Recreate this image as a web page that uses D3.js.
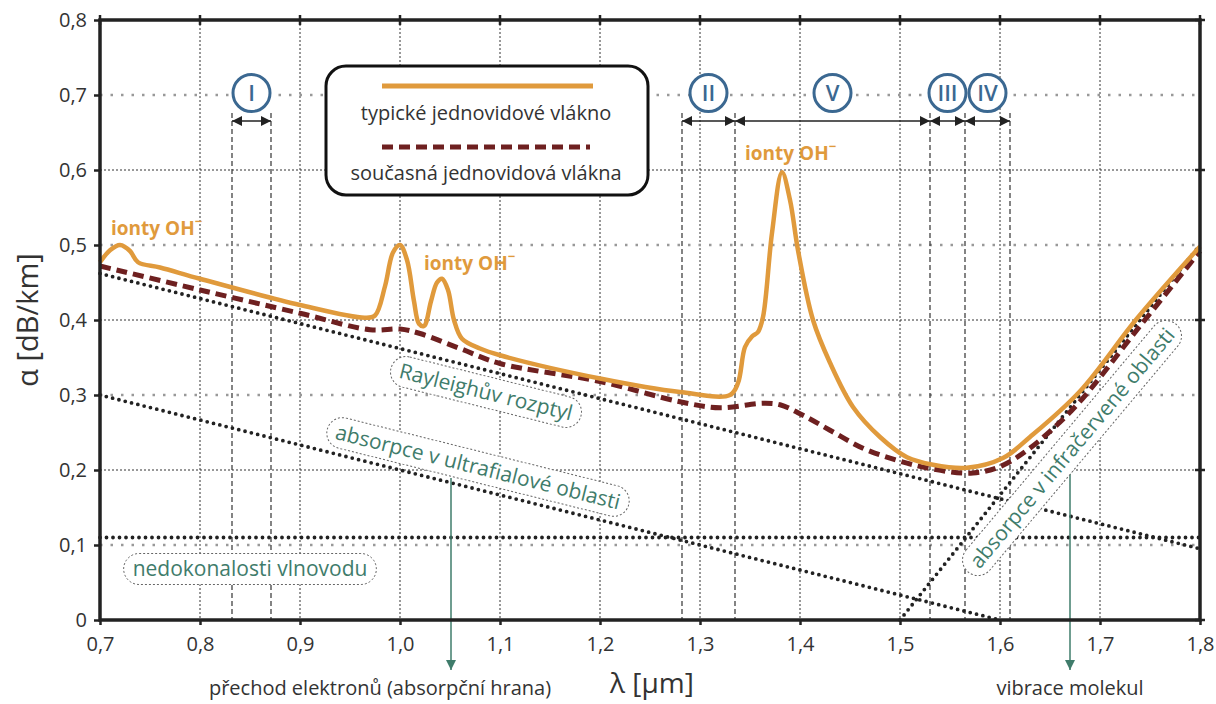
<!DOCTYPE html>
<html>
<head>
<meta charset="utf-8">
<title></title>
<style>
  body { margin: 0; background: #fff; }
  text { font-family: "Open Sans", sans-serif; }
</style>
</head>
<body>
<div id="chart"></div>
<script src="https://cdn.jsdelivr.net/npm/d3@7"></script>
<script>
// wavelength [um] and attenuation [dB/km]
var typLambda = [0.70, 0.71, 0.72, 0.73, 0.738, 0.76, 0.80, 0.90, 0.965, 0.975, 0.985, 0.993, 1.000, 1.007, 1.014, 1.019, 1.024, 1.031, 1.037, 1.042, 1.048, 1.054, 1.062, 1.08, 1.10, 1.20, 1.28, 1.33, 1.338, 1.345, 1.352, 1.358, 1.363, 1.372, 1.382, 1.39, 1.398, 1.413, 1.43, 1.453, 1.48, 1.507, 1.533, 1.567, 1.603, 1.63, 1.68, 1.737, 1.80];
var typAlpha  = [0.477, 0.493, 0.500, 0.492, 0.477, 0.470, 0.455, 0.420, 0.403, 0.406, 0.445, 0.490, 0.500, 0.480, 0.425, 0.395, 0.392, 0.425, 0.450, 0.455, 0.440, 0.400, 0.375, 0.362, 0.353, 0.322, 0.304, 0.300, 0.316, 0.364, 0.378, 0.384, 0.404, 0.516, 0.597, 0.560, 0.493, 0.400, 0.343, 0.284, 0.244, 0.217, 0.207, 0.203, 0.216, 0.244, 0.305, 0.402, 0.498];

var curLambda = [0.70, 0.80, 0.90, 0.97, 1.00, 1.02, 1.06, 1.10, 1.20, 1.28, 1.32, 1.363, 1.38, 1.403, 1.43, 1.463, 1.497, 1.53, 1.573, 1.607, 1.667, 1.74, 1.80];
var curAlpha  = [0.472, 0.440, 0.409, 0.387, 0.388, 0.382, 0.362, 0.342, 0.318, 0.291, 0.283, 0.289, 0.287, 0.273, 0.253, 0.229, 0.213, 0.202, 0.196, 0.209, 0.273, 0.392, 0.492];

// straight loss mechanisms: [lambda start, alpha start, lambda end, alpha end]
var rayleighLine = [0.70, 0.462, 1.80, 0.095];
var uvLine       = [0.70, 0.300, 1.60, 0.000];
var irLine       = [1.50, 0.000, 1.80, 0.500];
var guideLine    = [0.70, 0.110, 1.80, 0.110];

var bandNames = ["I", "II", "V", "III", "IV"];
var bandStart = [0.832, 1.282, 1.335, 1.530, 1.565];
var bandEnd   = [0.871, 1.335, 1.530, 1.565, 1.610];

var xTicks = [0.7, 0.8, 0.9, 1.0, 1.1, 1.2, 1.3, 1.4, 1.5, 1.6, 1.7, 1.8];
var yTicks = [0, 0.1, 0.2, 0.3, 0.4, 0.5, 0.6, 0.7, 0.8];

var orange = "#e09a3c", maroon = "#6e2020", teal = "#3f7c6b", blue = "#3b6891", ink = "#333";

var svg = d3.select('#chart').append('svg').attr('width', 1216).attr('height', 704);

var x = d3.scaleLinear().domain([0.7, 1.8]).range([100, 1200]);
var y = d3.scaleLinear().domain([0, 0.8]).range([620, 20]);
var fmt = function(d){ return d === 0 ? "0" : d3.format(".1f")(d).replace(".", ","); };

// grid
svg.append('g').selectAll('line').data(xTicks.slice(1, -1)).join('line')
  .attr('x1', d => x(d)).attr('x2', d => x(d)).attr('y1', y(0.8)).attr('y2', y(0))
  .attr('stroke', '#333').attr('stroke-width', 1).attr('stroke-dasharray', '2 2');
svg.append('g').selectAll('line').data(yTicks.slice(1, -1)).join('line')
  .attr('x1', x(0.7)).attr('x2', x(1.8)).attr('y1', d => y(d)).attr('y2', d => y(d))
  .attr('stroke', d => Math.round(d * 10) % 2 ? '#999' : '#333')
  .attr('stroke-width', d => Math.round(d * 10) % 2 ? 2.5 : 1)
  .attr('stroke-dasharray', d => Math.round(d * 10) % 2 ? '2.5 8' : '2 2');

// band boundaries
var bounds = Array.from(new Set(bandStart.concat(bandEnd)));
svg.append('g').selectAll('line').data(bounds).join('line')
  .attr('x1', d => x(d)).attr('x2', d => x(d)).attr('y1', 113).attr('y2', y(0))
  .attr('stroke', '#333').attr('stroke-width', 1.2).attr('stroke-dasharray', '5 3');

// arrow markers
var defs = svg.append('defs');
defs.append('marker').attr('id', 'ah').attr('viewBox', '0 0 10 10').attr('refX', 10).attr('refY', 5)
  .attr('markerWidth', 14).attr('markerHeight', 10).attr('markerUnits', 'userSpaceOnUse').attr('orient', 'auto-start-reverse')
  .append('path').attr('d', 'M0,0 L10,5 L0,10 Z').attr('fill', '#222');
defs.append('marker').attr('id', 'ta').attr('viewBox', '0 0 10 10').attr('refX', 10).attr('refY', 5)
  .attr('markerWidth', 14).attr('markerHeight', 10).attr('markerUnits', 'userSpaceOnUse').attr('orient', 'auto')
  .append('path').attr('d', 'M0,0 L10,5 L0,10 Z').attr('fill', teal);

var bands = svg.append('g');
bandNames.forEach(function(n, i){
  bands.append('line').attr('x1', x(bandStart[i])).attr('x2', x(bandEnd[i])).attr('y1', 121).attr('y2', 121)
    .attr('stroke', '#222').attr('stroke-width', 1.5)
    .attr('marker-start', 'url(#ah)').attr('marker-end', 'url(#ah)');
  var cx = x((bandStart[i] + bandEnd[i]) / 2);
  bands.append('circle').attr('cx', cx).attr('cy', 93).attr('r', 18.5)
    .attr('fill', '#fff').attr('stroke', blue).attr('stroke-width', 3);
  bands.append('text').attr('x', cx).attr('y', 101).attr('text-anchor', 'middle')
    .attr('font-size', 22).attr('font-weight', 600).attr('fill', blue).text(n);
});

// straight loss lines
var lines = [rayleighLine, uvLine, irLine, guideLine];
svg.append('g').selectAll('line').data(lines).join('line')
  .attr('x1', d => x(d[0])).attr('y1', d => y(d[1])).attr('x2', d => x(d[2])).attr('y2', d => y(d[3]))
  .attr('stroke', '#222').attr('stroke-width', 3.8).attr('stroke-linecap', 'round')
  .attr('stroke-dasharray', '0 6.5');

// fibre curves
var line = d3.line().x(d => x(d[0])).y(d => y(d[1])).curve(d3.curveCatmullRom.alpha(0.5));
svg.append('path').datum(curLambda.map((l, i) => [l, curAlpha[i]])).attr('d', line)
  .attr('fill', 'none').attr('stroke', maroon).attr('stroke-width', 5).attr('stroke-dasharray', '11 6');
svg.append('path').datum(typLambda.map((l, i) => [l, typAlpha[i]])).attr('d', line)
  .attr('fill', 'none').attr('stroke', orange).attr('stroke-width', 4.5).attr('stroke-linejoin', 'round');

// pill labels
function pill(txt, cx, cy, angle, size){
  var g = svg.append('g').attr('transform', 'translate(' + cx + ',' + cy + ') rotate(' + angle + ')');
  var r = g.append('rect');
  var t = g.append('text').attr('text-anchor', 'middle').attr('dy', '0.35em')
    .attr('font-size', size).attr('fill', teal).text(txt);
  var w = t.node().getComputedTextLength() + 18, h = size + 10;
  r.attr('x', -w / 2).attr('y', -h / 2).attr('width', w).attr('height', h).attr('rx', h / 2)
    .attr('fill', '#fff').attr('stroke', '#666').attr('stroke-width', 1).attr('stroke-dasharray', '2 2');
}

// annotation arrows
svg.append('line').attr('x1', 451).attr('x2', 451).attr('y1', 478).attr('y2', 670)
  .attr('stroke', teal).attr('stroke-width', 1.5).attr('marker-end', 'url(#ta)');
svg.append('line').attr('x1', 1070).attr('x2', 1070).attr('y1', 468).attr('y2', 670)
  .attr('stroke', teal).attr('stroke-width', 1.5).attr('marker-end', 'url(#ta)');

pill('Rayleighův rozptyl', 486, 392, 14, 21);
pill('absorpce v ultrafialové oblasti', 478, 467, 14, 21);
pill('nedokonalosti vlnovodu', 250, 569, 0, 21);
pill('absorpce v infračervené oblasti', 1072, 448, -50, 21);

// OH ion labels
function ohLabel(lx, ly){
  var t = svg.append('text').attr('x', lx).attr('y', ly).attr('font-size', 19).attr('font-weight', 700).attr('fill', orange);
  t.append('tspan').text('ionty OH');
  t.append('tspan').attr('dy', -9).attr('font-size', 13).text('−');
}
ohLabel(111, 235);
ohLabel(424, 270);
ohLabel(745, 160);

// frame and axes
var frame = svg.append('g');
frame.append('rect').attr('x', x(0.7)).attr('y', y(0.8)).attr('width', x(1.8) - x(0.7)).attr('height', y(0) - y(0.8))
  .attr('fill', 'none').attr('stroke', '#222').attr('stroke-width', 3.5);

var xAxis = svg.append('g').attr('transform', 'translate(0,' + y(0) + ')')
  .call(d3.axisBottom(x).tickValues(xTicks).tickFormat(fmt).tickSize(5).tickPadding(12));
var yAxis = svg.append('g').attr('transform', 'translate(' + x(0.7) + ',0)')
  .call(d3.axisLeft(y).tickValues(yTicks).tickFormat(fmt).tickSize(6).tickPadding(7));
[xAxis, yAxis].forEach(function(a){
  a.select('.domain').remove();
  a.selectAll('.tick line').attr('stroke', '#222').attr('stroke-width', 2.5);
  a.selectAll('.tick text').attr('font-size', 20).attr('fill', ink).attr('font-family', '"Open Sans", sans-serif');
});
// small ticks on top and right edges
svg.append('g').selectAll('line').data(xTicks).join('line')
  .attr('x1', d => x(d)).attr('x2', d => x(d)).attr('y1', y(0.8) - 5).attr('y2', y(0.8) + 5)
  .attr('stroke', '#222').attr('stroke-width', 2.5);
svg.append('g').selectAll('line').data(yTicks.filter(d => Math.round(d * 10) % 2 === 0)).join('line')
  .attr('x1', x(1.8) - 5).attr('x2', x(1.8) + 5).attr('y1', d => y(d)).attr('y2', d => y(d))
  .attr('stroke', '#222').attr('stroke-width', 2.5);

svg.append('text').attr('transform', 'translate(38,320) rotate(-90)').attr('text-anchor', 'middle')
  .attr('font-size', 29).attr('fill', ink).text('α [dB/km]');
svg.append('text').attr('x', 652).attr('y', 693).attr('text-anchor', 'middle')
  .attr('font-size', 28).attr('fill', ink).text('λ [μm]');
svg.append('text').attr('x', 380).attr('y', 695).attr('text-anchor', 'middle')
  .attr('font-size', 20).attr('fill', ink).text('přechod elektronů (absorpční hrana)');
svg.append('text').attr('x', 1070).attr('y', 695).attr('text-anchor', 'middle')
  .attr('font-size', 20).attr('fill', ink).text('vibrace molekul');

// legend
var lg = svg.append('g');
lg.append('rect').attr('x', 326).attr('y', 66).attr('width', 322).attr('height', 129).attr('rx', 20)
  .attr('fill', '#fff').attr('stroke', '#111').attr('stroke-width', 3);
lg.append('line').attr('x1', 382).attr('x2', 593).attr('y1', 86).attr('y2', 86)
  .attr('stroke', orange).attr('stroke-width', 5);
lg.append('text').attr('x', 486).attr('y', 120).attr('text-anchor', 'middle').attr('font-size', 20)
  .attr('fill', ink).text('typické jednovidové vlákno');
lg.append('line').attr('x1', 382).attr('x2', 590).attr('y1', 147).attr('y2', 147)
  .attr('stroke', maroon).attr('stroke-width', 5).attr('stroke-dasharray', '11 6');
lg.append('text').attr('x', 486).attr('y', 180).attr('text-anchor', 'middle').attr('font-size', 20)
  .attr('fill', ink).text('současná jednovidová vlákna');
</script>
</body>
</html>
